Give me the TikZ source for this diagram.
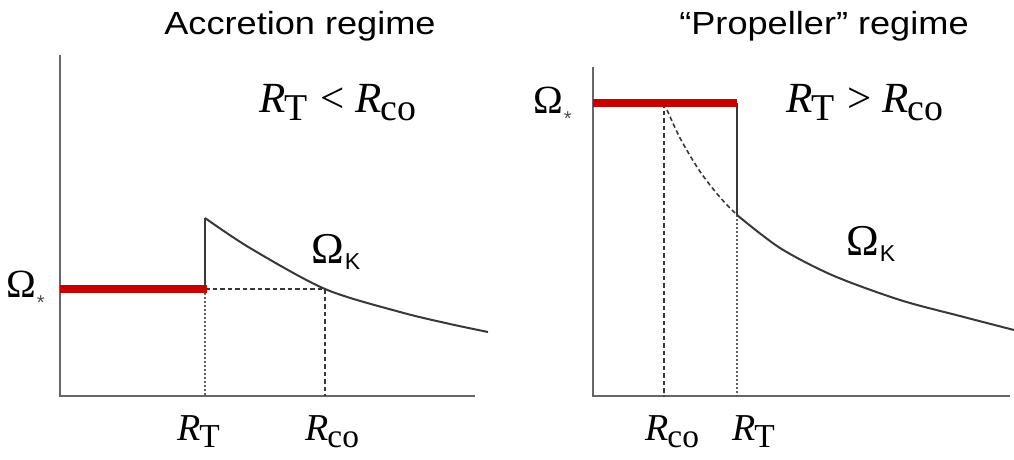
\documentclass[tikz,border=0pt]{standalone}
\usepackage{fontspec}
\setmainfont{Liberation Serif}
\newfontfamily\sansf{Liberation Sans}
\newcommand\Rsub[1]{\textit{R}\kern-1pt\raisebox{-0.2em}{\fontsize{0.88\fsz}{\fsz}\selectfont #1}}
\newlength\fsz
\newcommand\OmK{\fontsize{44}{46}\selectfont\char"03A9\kern1pt\raisebox{-0.15em}{\sansf\fontsize{23}{23}\selectfont K}}
\newcommand\OmS{\fontsize{40}{42}\selectfont\char"03A9\kern1pt\raisebox{-0.3em}{\sansf\fontsize{20}{20}\selectfont\color{black!70}*}}
\newcommand\SetF[1]{\setlength\fsz{#1pt}\fontsize{#1}{#1}\selectfont}
\begin{document}
\begin{tikzpicture}[x=1pt,y=-1pt,
  axis/.style={draw=black!60, line width=2.2pt},
  curve/.style={draw=black!78, line width=2pt},
  redline/.style={draw=red!78!black, line width=8pt},
  dashline/.style={draw=black!78, line width=1.6pt, dash pattern=on 4.5pt off 3pt},
  dotline/.style={draw=black!62, line width=2.2pt, dash pattern=on 1.6pt off 2.4pt},
  title/.style={font=\sansf\fontsize{32}{34}\selectfont, inner sep=0pt, xscale=1.13},
  lab/.style={font=\SetF{38}, inner sep=0pt, anchor=base west},
  biglab/.style={font=\SetF{43}, inner sep=0pt, anchor=base west},
  om/.style={inner sep=0pt, anchor=base west}
  ]
\useasboundingbox (0,0) rectangle (1014,460);
% ---------- left panel ----------
\coordinate (LO) at (60,396);
\coordinate (LT) at (60,55);
\coordinate (LX) at (475,396);
\coordinate (LS) at (60,289);
\coordinate (LRt) at (205,289);
\coordinate (LRe) at (207,289);
\coordinate (LRtTop) at (205,218);
\coordinate (LRtB) at (205,396);
\coordinate (LRc) at (325,289);
\coordinate (LRcB) at (325,396);
\coordinate (LEnd) at (488,332);
\node[title] (t1) at (300,26) {Accretion regime};
\draw[axis] (LT) -- (LO) -- (LX);
\draw[dashline] (LRt) -- (LRc) -- (LRcB);
\draw[dotline] (LRt) -- (LRtB);
\draw[curve] (LRt) -- (LRtTop);
\draw[curve] plot[smooth] coordinates {(LRtTop) (250,248) (325,289) (400,312) (450,324) (LEnd)};
\draw[redline] (LS) -- (LRe);
\node[biglab] (c1) at (259,112) {\Rsub{T}\kern2pt{} < \Rsub{co}};
\node[om] (ok1) at (311,263) {\OmK};
\node[om] (os1) at (6,297) {\OmS};
\node[lab] (rt1) at (177,440) {\Rsub{T}};
\node[lab] (rc1) at (305,440) {\Rsub{co}};
% ---------- right panel ----------
\coordinate (RO) at (593,396);
\coordinate (RT) at (593,67);
\coordinate (RX) at (1010,396);
\coordinate (RS) at (593,103);
\coordinate (RRc) at (664,103);
\coordinate (RRcB) at (664,396);
\coordinate (RRt) at (737,103);
\coordinate (RRtK) at (737,215);
\coordinate (RRtB) at (737,396);
\coordinate (REnd) at (1014,330);
\node[title] (t2) at (824,26) {“Propeller” regime};
\draw[axis] (RT) -- (RO) -- (RX);
\draw[dashline] (RRc) -- (RRcB);
\draw[dashline] plot[smooth] coordinates {(RRc) (680,138) (700,171.5) (720,197.3) (RRtK)};
\draw[dotline] (RRtK) -- (RRtB);
\draw[curve] (RRt) -- (RRtK);
\draw[curve] plot[smooth] coordinates {(RRtK) (780,248) (833,275.5) (900,300) (960,316) (REnd)};
\draw[redline] (RS) -- (RRt);
\node[biglab] (c2) at (786,112) {\Rsub{T}\kern2pt{} > \Rsub{co}};
\node[om] (ok2) at (846,255) {\OmK};
\node[om] (os2) at (533,113) {\OmS};
\node[lab] (rc2) at (645,440) {\Rsub{co}};
\node[lab] (rt2) at (732,440) {\Rsub{T}};
\end{tikzpicture}
\end{document}
